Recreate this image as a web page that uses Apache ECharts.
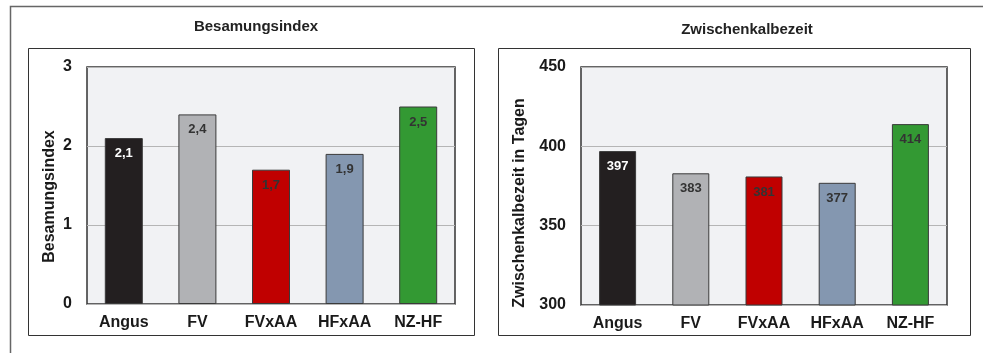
<!DOCTYPE html>
<html><head><meta charset="utf-8">
<script src="https://cdn.jsdelivr.net/npm/echarts@6/dist/echarts.min.js"></script>
<style>html,body{margin:0;padding:0;background:#fff}#c{width:983px;height:353px}</style>
</head><body><div id="c"></div>
<script>
const categories = ['Angus','FV','FVxAA','HFxAA','NZ-HF'];
const besamungsindex = [2.1, 2.4, 1.7, 1.9, 2.5];
const zwischenkalbezeit = [397, 383, 381, 377, 414];
const barColors = ['#231f20','#b1b2b5','#c00000','#8497b0','#339933'];
const labelColors = ['#ffffff','#333333','#333333','#333333','#333333'];
const leftTicks = {min:0, max:3, interval:1};
const rightTicks = {min:300, max:450, interval:50};

const font = 'Liberation Sans, Arial, sans-serif';
function mkData(vals){
  return vals.map((v,i)=>({value:v,itemStyle:{color:barColors[i]},label:{color:labelColors[i]}}));
}
const chart = echarts.init(document.getElementById('c'), null, {renderer:'canvas'});
const axisLabel = {fontFamily:font, fontWeight:'bold', fontSize:16, color:'#1a1a1a'};
chart.setOption({
  animation:false,
  graphic:[
    {type:'polyline', shape:{points:[[10.5,353],[10.5,6.5],[983,6.5]]}, style:{stroke:'#666', lineWidth:1.5, fill:null}},
    {type:'rect', shape:{x:28.5,y:48.5,width:446,height:287}, style:{stroke:'#333',lineWidth:1,fill:null}},
    {type:'rect', shape:{x:498.5,y:48.5,width:472,height:287}, style:{stroke:'#333',lineWidth:1,fill:null}}
  ],
  title:[
    {text:'Besamungsindex', left:251, top:14, textAlign:'center', textStyle:{fontFamily:font,fontWeight:'bold',fontSize:15,color:'#222'}},
    {text:'Zwischenkalbezeit', left:742, top:17, textAlign:'center', textStyle:{fontFamily:font,fontWeight:'bold',fontSize:15,color:'#222'}}
  ],
  grid:[
    {left:87, top:67, width:368, height:237, show:true, backgroundColor:'#f1f2f4', borderColor:'#333', borderWidth:1.5},
    {left:581, top:67, width:366, height:238, show:true, backgroundColor:'#f1f2f4', borderColor:'#333', borderWidth:1.5}
  ],
  xAxis:[0,1].map(g=>({
    type:'category', gridIndex:g, data:categories,
    axisLine:{show:false}, axisTick:{show:false},
    axisLabel:Object.assign({margin:11, interval:0}, axisLabel)
  })),
  yAxis:[
    Object.assign({type:'value', gridIndex:0, name:'Besamungsindex', nameLocation:'middle', nameGap:29,
      nameTextStyle:{fontFamily:font,fontWeight:'bold',fontSize:16,color:'#1a1a1a',padding:[0,22,0,0]},
      axisLine:{show:false}, axisTick:{show:false},
      axisLabel:Object.assign({margin:15}, axisLabel),
      splitLine:{lineStyle:{color:'#b5b5b5',width:1}}}, leftTicks),
    Object.assign({type:'value', gridIndex:1, name:'Zwischenkalbezeit in Tagen', nameLocation:'middle', nameGap:53,
      nameTextStyle:{fontFamily:font,fontWeight:'bold',fontSize:16,color:'#1a1a1a',padding:[0,34,0,0]},
      axisLine:{show:false}, axisTick:{show:false},
      axisLabel:Object.assign({margin:15}, axisLabel),
      splitLine:{lineStyle:{color:'#b5b5b5',width:1}}}, rightTicks)
  ],
  series:[
    {type:'bar', xAxisIndex:0, yAxisIndex:0, data:mkData(besamungsindex), barWidth:38,
      itemStyle:{borderColor:'#3a3a3a', borderWidth:1},
      label:{show:true, position:'insideTop', distance:9, fontFamily:font, fontWeight:'bold', fontSize:13,
        formatter:p=>String(p.value).replace('.',',')}},
    {type:'bar', xAxisIndex:1, yAxisIndex:1, data:mkData(zwischenkalbezeit), barWidth:37,
      itemStyle:{borderColor:'#3a3a3a', borderWidth:1},
      label:{show:true, position:'insideTop', distance:9, fontFamily:font, fontWeight:'bold', fontSize:13}}
  ]
});
</script></body></html>
